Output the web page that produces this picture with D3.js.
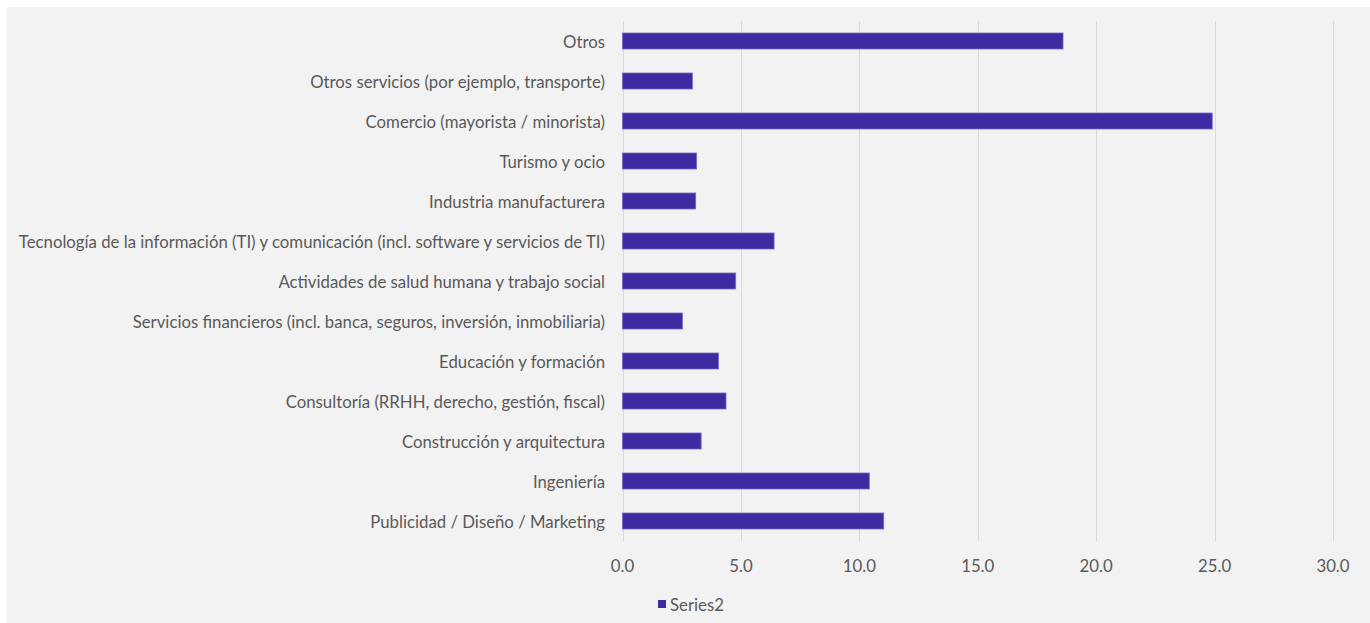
<!DOCTYPE html>
<html>
<head>
<meta charset="utf-8">
<script src="https://cdn.jsdelivr.net/npm/d3@7"></script>
<style>
  html, body { margin: 0; padding: 0; background: #ffffff; }
  svg { display: block; }
  text { font-family: Lato, "Open Sans", sans-serif; fill: #595959; }
</style>
</head>
<body>
<svg id="chart" width="1370" height="623"></svg>
<script>
// Sector categories, top to bottom
const categories = [
  "Otros",
  "Otros servicios (por ejemplo, transporte)",
  "Comercio (mayorista / minorista)",
  "Turismo y ocio",
  "Industria manufacturera",
  "Tecnología de la información (TI) y comunicación (incl. software y servicios de TI)",
  "Actividades de salud humana y trabajo social",
  "Servicios financieros (incl. banca, seguros, inversión, inmobiliaria)",
  "Educación y formación",
  "Consultoría (RRHH, derecho, gestión, fiscal)",
  "Construcción y arquitectura",
  "Ingeniería",
  "Publicidad / Diseño / Marketing"
];

// Share per sector (Series2)
const series2 = [18.6, 2.95, 24.9, 3.13, 3.09, 6.4, 4.78, 2.53, 4.05, 4.37, 3.32, 10.42, 11.03];

const xTicks = [0, 5, 10, 15, 20, 25, 30];
const seriesName = "Series2";

const svg = d3.select("#chart");
const W = 1370, H = 623;

// chart area background
svg.append("rect")
  .attr("x", 7).attr("y", 7)
  .attr("width", W - 7).attr("height", H - 7)
  .attr("fill", "#f2f2f2");

const plot = { left: 622.5, right: 1333, top: 21, bottom: 541 };

const x = d3.scaleLinear().domain([0, 30]).range([plot.left, plot.right]);
const y = d3.scaleBand().domain(categories).range([plot.top, plot.bottom]).paddingInner(0.6).paddingOuter(0.3);

// vertical gridlines
svg.append("g")
  .selectAll("line")
  .data(xTicks)
  .join("line")
  .attr("x1", d => Math.round(x(d)) + 0.5)
  .attr("x2", d => Math.round(x(d)) + 0.5)
  .attr("y1", plot.top)
  .attr("y2", plot.bottom)
  .attr("stroke", "#d9d9d9")
  .attr("stroke-width", 1);

// bars
svg.append("g")
  .selectAll("rect")
  .data(categories.map((c, i) => ({ c, v: series2[i] })))
  .join("rect")
  .attr("x", x(0))
  .attr("y", d => y(d.c))
  .attr("width", d => x(d.v) - x(0))
  .attr("height", y.bandwidth())
  .attr("fill", "#3d2ca1")
  .attr("stroke", "#7466c6")
  .attr("stroke-width", 0.8);

// category labels, sized so the longest one spans the left margin
const labelG = svg.append("g");
const labels = labelG.selectAll("text")
  .data(categories)
  .join("text")
  .attr("x", 605)
  .attr("y", d => y(d) + y.bandwidth() / 2)
  .attr("text-anchor", "end")
  .attr("dominant-baseline", "central")
  .style("font-size", "16px")
  .text(d => d);

const longest = labels.filter(d => d === categories[5]).node().getComputedTextLength();
const fs = 16 * 587 / longest;
labels.style("font-size", fs + "px");

// x-axis tick labels
svg.append("g")
  .selectAll("text")
  .data(xTicks)
  .join("text")
  .attr("x", d => x(d))
  .attr("y", 565)
  .attr("text-anchor", "middle")
  .attr("dominant-baseline", "central")
  .style("font-size", fs + "px")
  .text(d => d3.format(".1f")(d));

// legend
const legend = svg.append("g");
legend.append("rect")
  .attr("x", 658).attr("y", 600)
  .attr("width", 8).attr("height", 8)
  .attr("fill", "#3d2ca1");
legend.append("text")
  .attr("x", 670)
  .attr("y", 604.5)
  .attr("dominant-baseline", "central")
  .style("font-size", fs + "px")
  .text(seriesName);
</script>
</body>
</html>
